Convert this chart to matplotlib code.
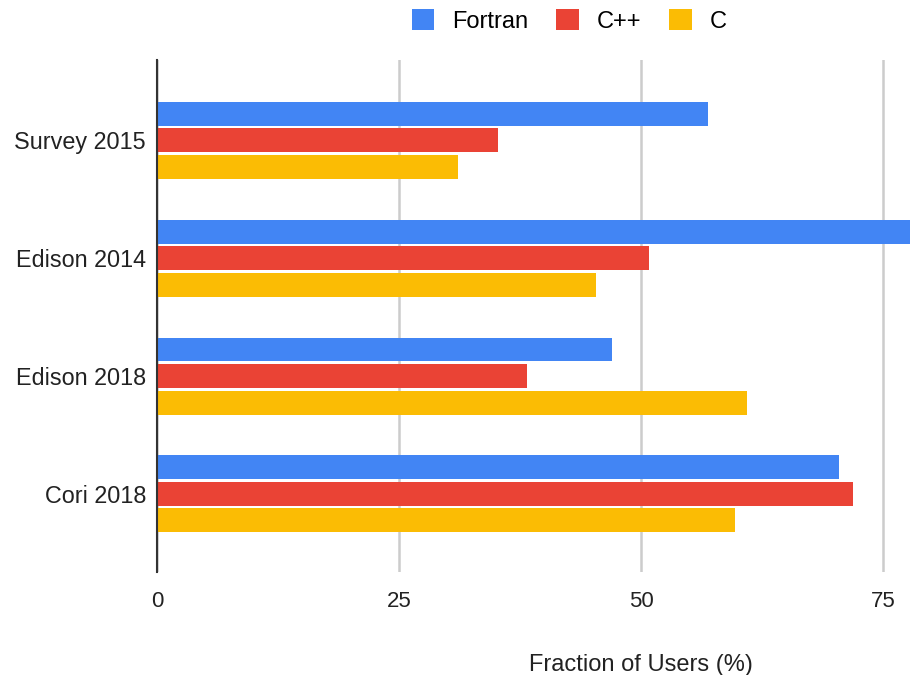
import matplotlib
matplotlib.use("Agg")
import matplotlib.pyplot as plt
import numpy as np

plt.rcParams["font.family"] = ["Liberation Sans", "DejaVu Sans"]

systems = ["Survey 2015", "Edison 2014", "Edison 2018", "Cori 2018"]
languages = ["Fortran", "C++", "C"]
fortran = [56.9, 80.0, 47.0, 70.5]
cpp = [35.2, 50.8, 38.2, 71.9]
c_lang = [31.1, 45.4, 61.0, 59.7]
colors = ["#4285F4", "#EA4335", "#FBBC04"]

fig = plt.figure(figsize=(9.1, 6.75), dpi=100)
# the original chart runs to 100 % but is cut off at the right edge
ax = fig.add_axes([157 / 910, 0.153, (100 * 9.68) / 910, 0.758])

y = np.arange(len(systems))
h = 0.203
step = 0.225
for i, (vals, col, lab) in enumerate(zip([fortran, cpp, c_lang], colors, languages)):
    ax.barh(y + (i - 1) * step, vals, height=h, color=col, label=lab, zorder=3)

ax.set_xlim(0, 100)
ax.set_ylim(3.66, -0.68)
ax.set_yticks(y)
ax.set_yticklabels(systems, fontsize=16.8, color="#222")
ax.set_xticks([0, 25, 50, 75])
ax.set_xticklabels(["0", "25", "50", "75"], fontsize=16, color="#222")
ax.tick_params(axis="y", length=0, pad=8)
ax.tick_params(axis="x", length=0, pad=14)
ax.xaxis.grid(True, color="#cccccc", linewidth=1.8, zorder=0)
for s in ["top", "right", "bottom"]:
    ax.spines[s].set_visible(False)
ax.spines["left"].set_color("#333333")
ax.spines["left"].set_linewidth(1.5)
ax.spines["left"].set_zorder(4)
ax.set_xlabel("Fraction of Users (%)", fontsize=17, color="#222", labelpad=30)

fig.legend(loc="center", bbox_to_anchor=(569 / 910, 1 - 21 / 675), ncol=3,
           frameon=False, fontsize=17, handlelength=0.95, handleheight=0.95,
           columnspacing=1.2, handletextpad=0.75)

fig.savefig("out.png", dpi=100)
